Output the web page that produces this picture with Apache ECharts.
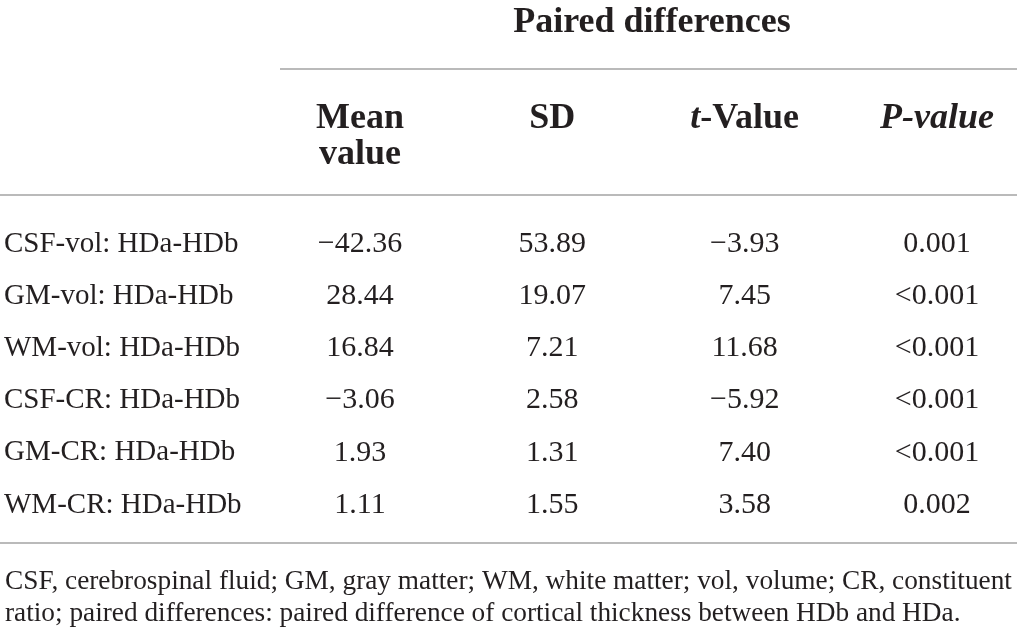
<!DOCTYPE html>
<html>
<head>
<meta charset="utf-8">
<script src="https://cdn.jsdelivr.net/npm/echarts@6/dist/echarts.min.js"></script>
<style>html,body{margin:0;padding:0;background:#fff;}#c{width:1017px;height:635px;}</style>
</head>
<body>
<div id="c"></div>
<script>
var rowLabels = ['CSF-vol: HDa-HDb','GM-vol: HDa-HDb','WM-vol: HDa-HDb','CSF-CR: HDa-HDb','GM-CR: HDa-HDb','WM-CR: HDa-HDb'];
var columns = ['Mean value','SD','t-Value','P-value'];
var meanValues = [-42.36, 28.44, 16.84, -3.06, 1.93, 1.11];
var sdValues = [53.89, 19.07, 7.21, 2.58, 1.31, 1.55];
var tValues = [-3.93, 7.45, 11.68, -5.92, 7.40, 3.58];
var pValues = ['0.001','<0.001','<0.001','<0.001','<0.001','0.002'];
var spanTitle = 'Paired differences';
var footnote = 'CSF, cerebrospinal fluid; GM, gray matter; WM, white matter; vol, volume; CR, constituent\nratio; paired differences: paired difference of cortical thickness between HDb and HDa.';

var FONT = 'Liberation Serif';
var INK = '#231f20';
var RULE = '#a3a3a3';

function fmt(v){
  if (typeof v === 'string') return v;
  var s = Math.abs(v).toFixed(2);
  return v < 0 ? '\u2212' + s : s;
}
function colSeries(col, vals){
  return {
    type: 'scatter',
    symbolSize: 0,
    silent: true,
    itemStyle: {opacity: 1},
    data: vals.map(function(v, i){ return [col, rowLabels[i], fmt(v)]; }),
    label: {
      show: true, position: 'inside',
      formatter: function(p){ return p.value[2]; },
      fontFamily: FONT, fontSize: 30, color: INK, opacity: 1
    }
  };
}

var chart = echarts.init(document.getElementById('c'), null, {renderer: 'canvas'});
chart.setOption({
  backgroundColor: '#fff',
  animation: false,
  title: [{
    text: spanTitle, left: 647, top: 0, textAlign: 'center',
    textStyle: {fontFamily: FONT, fontSize: 36, fontWeight: 'bold', color: INK}
  }, {
    text: footnote, left: 0, top: 561,
    textStyle: {fontFamily: FONT, fontSize: 27.3, fontWeight: 'normal', color: INK, lineHeight: 32}
  }],
  grid: {left: 360, right: 80, top: 244, bottom: 130},
  xAxis: {
    type: 'category', data: columns, position: 'top', boundaryGap: false,
    axisLine: {show: false}, axisTick: {show: false}, splitLine: {show: false},
    axisLabel: {
      margin: 143, verticalAlign: 'top', interval: 0,
      fontFamily: FONT, fontSize: 36, fontWeight: 'bold', color: INK, lineHeight: 36,
      formatter: function(v){
        if (v === 'Mean value') return '{b|Mean}\n{b|value}';
        if (v === 't-Value') return '{bi|t}{b|-Value}';
        if (v === 'P-value') return '{bi|P-value}';
        return '{b|' + v + '}';
      },
      rich: {
        b: {fontFamily: FONT, fontSize: 36, fontWeight: 'bold', color: INK, lineHeight: 36},
        bi: {fontFamily: FONT, fontSize: 36, fontWeight: 'bold', fontStyle: 'italic', color: INK, lineHeight: 36}
      }
    }
  },
  yAxis: {
    type: 'category', data: rowLabels, inverse: true, boundaryGap: false,
    axisLine: {show: false}, axisTick: {show: false}, splitLine: {show: false},
    axisLabel: {
      align: 'left', margin: 356, interval: 0,
      fontFamily: FONT, fontSize: 29, color: INK
    }
  },
  series: [
    colSeries('Mean value', meanValues),
    colSeries('SD', sdValues),
    colSeries('t-Value', tValues),
    colSeries('P-value', pValues)
  ],
  graphic: [
    {type: 'line', shape: {x1: 280, y1: 69, x2: 1017, y2: 69}, style: {stroke: RULE, lineWidth: 1.5}, silent: true},
    {type: 'line', shape: {x1: 0, y1: 195, x2: 1017, y2: 195}, style: {stroke: RULE, lineWidth: 1.5}, silent: true},
    {type: 'line', shape: {x1: 0, y1: 543, x2: 1017, y2: 543}, style: {stroke: RULE, lineWidth: 1.5}, silent: true}
  ]
});
</script>
</body>
</html>
